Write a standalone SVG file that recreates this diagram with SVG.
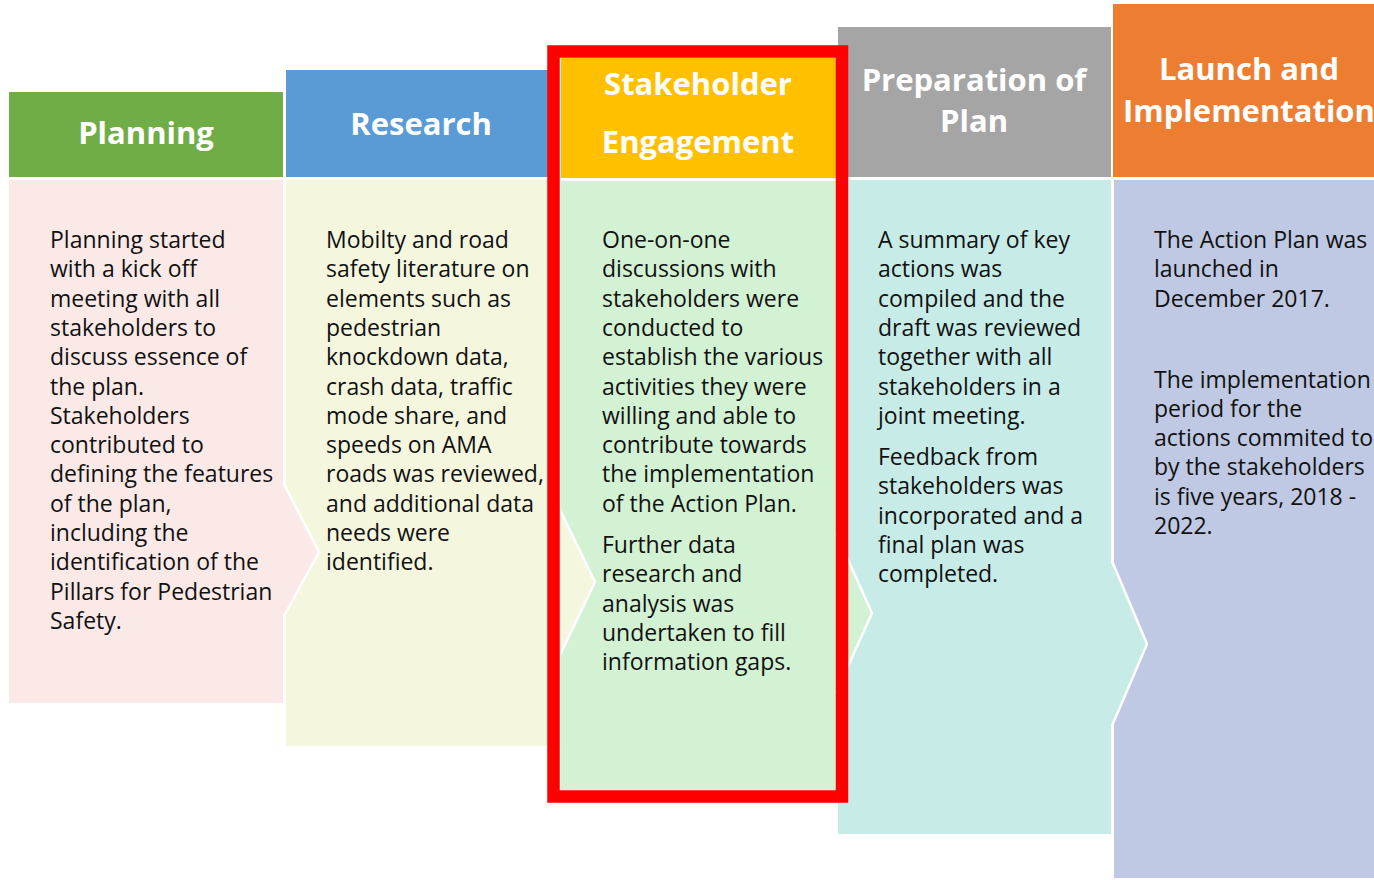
<svg xmlns="http://www.w3.org/2000/svg" width="1374" height="880" viewBox="0 0 1374 880">
<style>
.hd{font-family:"Open Sans","Noto Sans",sans-serif;font-weight:bold;font-size:31px;fill:#ffffff;text-anchor:middle}
.bt{font-family:"Open Sans","Noto Sans",sans-serif;font-size:23px;fill:#111111}
.edge{fill:none;stroke:#ffffff;stroke-width:2.5}
</style>
<rect width="1374" height="880" fill="#ffffff"/>
<g id="launch">
<rect x="1113" y="4" width="274" height="173" fill="#ED7D31"/>
<text class="hd" x="1249" y="80">Launch and</text>
<text class="hd" x="1249" y="122">Implementation</text>
<rect x="1114" y="180" width="273" height="698" fill="#BFC9E3"/>
<text class="bt" x="1154" y="248">The Action Plan was</text>
<text class="bt" x="1154" y="277.3">launched in</text>
<text class="bt" x="1154" y="306.6">December 2017.</text>
<text class="bt" x="1154" y="387.5">The implementation</text>
<text class="bt" x="1154" y="416.8">period for the</text>
<text class="bt" x="1154" y="446.1">actions commited to</text>
<text class="bt" x="1154" y="475.4">by the stakeholders</text>
<text class="bt" x="1154" y="504.7">is five years, 2018 -</text>
<text class="bt" x="1154" y="534">2022.</text>
</g>
<g id="preparation">
<rect x="838" y="27" width="273" height="150" fill="#A5A5A5"/>
<text class="hd" x="974" y="91">Preparation of</text>
<text class="hd" x="974" y="132">Plan</text>
<polygon points="838,180 1111,180 1111,562 1147,644 1111,725 1111,834 838,834" fill="#C7ECE7"/>
<polyline class="edge" points="1112,561 1147,644 1112,726"/>
<text class="bt" x="878" y="248">A summary of key</text>
<text class="bt" x="878" y="277.3">actions was</text>
<text class="bt" x="878" y="306.6">compiled and the</text>
<text class="bt" x="878" y="335.9">draft was reviewed</text>
<text class="bt" x="878" y="365.2">together with all</text>
<text class="bt" x="878" y="394.5">stakeholders in a</text>
<text class="bt" x="878" y="423.8">joint meeting.</text>
<text class="bt" x="878" y="465">Feedback from</text>
<text class="bt" x="878" y="494.3">stakeholders was</text>
<text class="bt" x="878" y="523.6">incorporated and a</text>
<text class="bt" x="878" y="552.9">final plan was</text>
<text class="bt" x="878" y="582.2">completed.</text>
</g>
<g id="stakeholder">
<rect x="561" y="58" width="275" height="120" fill="#FFC000"/>
<text class="hd" x="698" y="95">Stakeholder</text>
<text class="hd" x="698" y="153">Engagement</text>
<polygon points="561,181 836,181 836,533 872,613 836,693 836,790 561,790" fill="#D3F1D3"/>
<polyline class="edge" points="836,533 872,613 836,693"/>
<text class="bt" x="602" y="248">One-on-one</text>
<text class="bt" x="602" y="277.3">discussions with</text>
<text class="bt" x="602" y="306.6">stakeholders were</text>
<text class="bt" x="602" y="335.9">conducted to</text>
<text class="bt" x="602" y="365.2">establish the various</text>
<text class="bt" x="602" y="394.5">activities they were</text>
<text class="bt" x="602" y="423.8">willing and able to</text>
<text class="bt" x="602" y="453.1">contribute towards</text>
<text class="bt" x="602" y="482.4">the implementation</text>
<text class="bt" x="602" y="511.7">of the Action Plan.</text>
<text class="bt" x="602" y="553">Further data</text>
<text class="bt" x="602" y="582.3">research and</text>
<text class="bt" x="602" y="611.6">analysis was</text>
<text class="bt" x="602" y="640.9">undertaken to fill</text>
<text class="bt" x="602" y="670.2">information gaps.</text>
</g>
<g id="research">
<rect x="286" y="70" width="262" height="107" fill="#5B9BD5"/>
<text class="hd" x="421" y="135">Research</text>
<polygon points="286,180 548,180 548,485 595,582 548,680 548,746 286,746" fill="#F4F7DE"/>
<polyline class="edge" points="548,485 595,582 548,680"/>
<text class="bt" x="326" y="248">Mobilty and road</text>
<text class="bt" x="326" y="277.3">safety literature on</text>
<text class="bt" x="326" y="306.6">elements such as</text>
<text class="bt" x="326" y="335.9">pedestrian</text>
<text class="bt" x="326" y="365.2">knockdown data,</text>
<text class="bt" x="326" y="394.5">crash data, traffic</text>
<text class="bt" x="326" y="423.8">mode share, and</text>
<text class="bt" x="326" y="453.1">speeds on AMA</text>
<text class="bt" x="326" y="482.4">roads was reviewed,</text>
<text class="bt" x="326" y="511.7">and additional data</text>
<text class="bt" x="326" y="541">needs were</text>
<text class="bt" x="326" y="570.3">identified.</text>
</g>
<g id="planning">
<rect x="9" y="92" width="274" height="85" fill="#70AD47"/>
<text class="hd" x="146" y="144">Planning</text>
<polygon points="9,180 283,180 283,485 319,552 283,615 283,703 9,703" fill="#FBE9E7"/>
<polyline class="edge" points="284,484 319,552 284,616"/>
<text class="bt" x="50" y="248">Planning started</text>
<text class="bt" x="50" y="277.3">with a kick off</text>
<text class="bt" x="50" y="306.6">meeting with all</text>
<text class="bt" x="50" y="335.9">stakeholders to</text>
<text class="bt" x="50" y="365.2">discuss essence of</text>
<text class="bt" x="50" y="394.5">the plan.</text>
<text class="bt" x="50" y="423.8">Stakeholders</text>
<text class="bt" x="50" y="453.1">contributed to</text>
<text class="bt" x="50" y="482.4">defining the features</text>
<text class="bt" x="50" y="511.7">of the plan,</text>
<text class="bt" x="50" y="541">including the</text>
<text class="bt" x="50" y="570.3">identification of the</text>
<text class="bt" x="50" y="599.6">Pillars for Pedestrian</text>
<text class="bt" x="50" y="628.9">Safety.</text>
</g>
<g id="connectors"></g>
<g id="highlight">
<rect x="553.5" y="51.5" width="288.5" height="745" fill="none" stroke="#FF0000" stroke-width="12.5"/>
</g>
</svg>
